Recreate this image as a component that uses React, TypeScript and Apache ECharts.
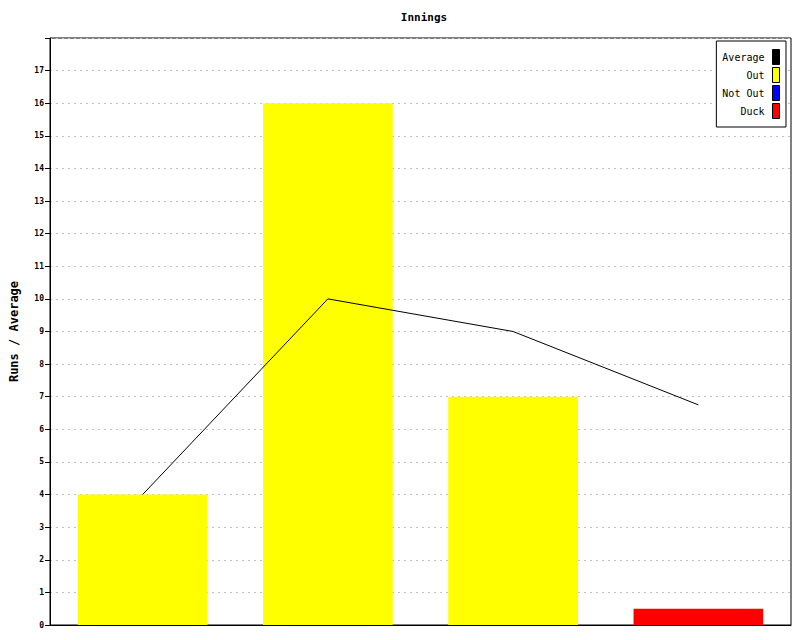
import React, { useEffect, useRef } from "react";
import * as echarts from "echarts";

const categories = ["1", "2", "3", "4"];
const outRuns: (number | string)[] = [4, 16, 7, "-"];
const notOutRuns: (number | string)[] = ["-", "-", "-", "-"];
const duckRuns: (number | string)[] = ["-", "-", "-", 0.5];
const average = [4, 10, 9, 6.75];

const FONT = "'DejaVu Sans Mono', 'Liberation Mono', monospace";

export default function App() {
  const ref = useRef<HTMLDivElement>(null);
  useEffect(() => {
    document.body.style.margin = "0";
    const chart = echarts.init(ref.current!, null, { renderer: "svg" });
    chart.setOption({
      animation: false,
      backgroundColor: "#ffffff",
      title: {
        text: "Innings",
        left: 419,
        top: 7,
        textAlign: "center",
        textStyle: { fontFamily: FONT, fontSize: 11, fontWeight: "bold", color: "#000" },
      },
      legend: {
        orient: "vertical",
        right: 14,
        top: 41,
        align: "right",
        padding: [8, 6, 8, 6],
        itemGap: 2,
        itemWidth: 7,
        itemHeight: 15,
        borderColor: "#000",
        borderWidth: 1,
        borderRadius: 0,
        backgroundColor: "#fff",
        icon: "rect",
        data: [
          { name: "Average", itemStyle: { color: "#000", borderColor: "#000", borderWidth: 1 } },
          { name: "Out", itemStyle: { color: "#ffff00", borderColor: "#000", borderWidth: 1 } },
          { name: "Not Out", itemStyle: { color: "#0000ff", borderColor: "#000", borderWidth: 1 } },
          { name: "Duck", itemStyle: { color: "#ff0000", borderColor: "#000", borderWidth: 1 } },
        ],
        textStyle: { fontFamily: FONT, fontSize: 10, color: "#000", width: 41, align: "right", padding: [0, 3, 0, 0] },
      },
      grid: {
        left: 48,
        right: 9,
        top: 38,
        bottom: 15,
        show: true,
        borderColor: "#000",
        borderWidth: 1,
      },
      xAxis: {
        type: "category",
        data: categories,
        axisLabel: { show: false },
        axisTick: { show: false },
        axisLine: { lineStyle: { color: "#000" } },
      },
      yAxis: {
        type: "value",
        min: 0,
        max: 18,
        interval: 1,
        name: "Runs / Average",
        nameLocation: "middle",
        nameGap: 30,
        nameTextStyle: { fontFamily: FONT, fontSize: 12, fontWeight: "bold", color: "#000" },
        axisLine: { show: true, lineStyle: { color: "#000" } },
        axisTick: { show: true, length: 5, lineStyle: { color: "#000" } },
        axisLabel: {
          fontFamily: FONT,
          fontSize: 8,
          fontWeight: "bold",
          color: "#000",
          margin: 6,
          formatter: (v: number) => (v >= 18 ? "" : String(v)),
        },
        splitLine: { show: true, lineStyle: { color: "#c0c0c0", type: [2, 4] } },
      },
      series: [
        {
          name: "Out",
          type: "bar",
          stack: "runs",
          barWidth: "70%",
          data: outRuns,
          itemStyle: { color: "#ffff00" },
        },
        {
          name: "Not Out",
          type: "bar",
          stack: "runs",
          barWidth: "70%",
          data: notOutRuns,
          itemStyle: { color: "#0000ff" },
        },
        {
          name: "Duck",
          type: "bar",
          stack: "runs",
          barWidth: "70%",
          data: duckRuns,
          itemStyle: { color: "#ff0000" },
        },
        {
          name: "Average",
          type: "line",
          data: average,
          showSymbol: false,
          symbol: "none",
          lineStyle: { color: "#000", width: 1 },
          itemStyle: { color: "#000" },
          z: 5,
        },
      ],
    });
    return () => chart.dispose();
  }, []);
  return <div ref={ref} style={{ position: "absolute", left: 0, top: 0, width: 800, height: 640 }} />;
}
